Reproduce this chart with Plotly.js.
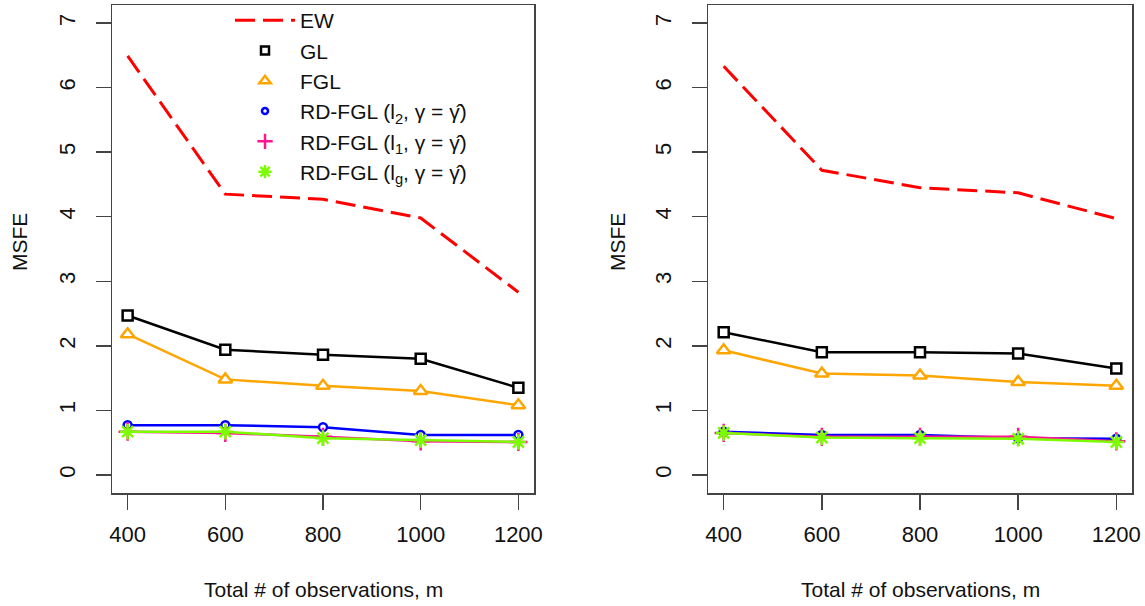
<!DOCTYPE html>
<html>
<head>
<meta charset="utf-8">
<script src="https://cdn.plot.ly/plotly-3.0.1.min.js"></script>
<style>html,body{margin:0;padding:0;background:#fff;}#chart{width:1145px;height:606px;}</style>
</head>
<body>
<div id="chart"></div>
<script>
// ---- data ----
var m = [400, 600, 800, 1000, 1200];
var xTickVals = [400, 600, 800, 1000, 1200];
var yTickVals = [0, 1, 2, 3, 4, 5, 6, 7];

var seriesNames = ["EW", "GL", "FGL",
  "RD-FGL (l<sub>2</sub>, γ = γ\u0302)",
  "RD-FGL (l<sub>1</sub>, γ = γ\u0302)",
  "RD-FGL (l<sub>g</sub>, γ = γ\u0302)"];

// left panel
var ewLeft  = [6.49, 4.35, 4.27, 3.98, 2.83];
var glLeft  = [2.47, 1.94, 1.86, 1.80, 1.35];
var fglLeft = [2.18, 1.48, 1.38, 1.30, 1.08];
var l2Left  = [0.77, 0.77, 0.74, 0.62, 0.62];
var l1Left  = [0.67, 0.65, 0.59, 0.52, 0.51];
var lgLeft  = [0.67, 0.67, 0.57, 0.54, 0.51];

// right panel
var ewRight  = [6.33, 4.72, 4.45, 4.37, 3.97];
var glRight  = [2.21, 1.90, 1.90, 1.88, 1.65];
var fglRight = [1.93, 1.57, 1.54, 1.44, 1.38];
var l2Right  = [0.67, 0.62, 0.62, 0.57, 0.56];
var l1Right  = [0.65, 0.59, 0.59, 0.59, 0.52];
var lgRight  = [0.65, 0.58, 0.57, 0.56, 0.51];

var xTitle = "Total # of observations, m";
var yTitle = "MSFE";

// ---- styles ----
var FONT = "Liberation Sans, Arial, sans-serif";
var styles = [
  {color: "#FF0000", symbol: null, dash: "20px,8px", lw: 3},
  {color: "#000000", symbol: "square", size: 10},
  {color: "#FFA500", symbol: "triangle-up", size: 12},
  {color: "#0000FF", symbol: "circle", size: 8},
  {color: "#FF1493", symbol: "cross-thin-open", size: 13},
  {color: "#7CFC00", symbol: "asterisk-open", size: 13}
];

function mk(yvals, i, xa, ya) {
  var s = styles[i];
  var t = {x: m, y: yvals, xaxis: xa, yaxis: ya, showlegend: false,
    line: {color: s.color, width: s.lw || 2.5, dash: s.dash || "solid"}, hoverinfo: "skip"};
  if (s.symbol) {
    t.mode = "lines+markers";
    var fillWhite = (i <= 3);
    t.marker = {symbol: s.symbol, size: s.size,
      color: fillWhite ? "#FFFFFF" : s.color,
      line: {color: s.color, width: 2.5}};
  } else {
    t.mode = "lines";
  }
  return t;
}

var left = [ewLeft, glLeft, fglLeft, l2Left, l1Left, lgLeft];
var right = [ewRight, glRight, fglRight, l2Right, l1Right, lgRight];
var data = [];
left.forEach(function (v, i) { data.push(mk(v, i, "x", "y")); });
right.forEach(function (v, i) { data.push(mk(v, i, "x2", "y2")); });

// legend entries
seriesNames.forEach(function (name, i) {
  var s = styles[i];
  var t = {x: [null], y: [null], name: name, xaxis: "x", yaxis: "y", showlegend: true, hoverinfo: "skip"};
  if (s.symbol) {
    t.mode = "markers";
    t.marker = {symbol: s.symbol, size: s.size - 2, color: (i <= 3) ? "#FFFFFF" : s.color,
      line: {color: s.color, width: 2.5}};
  } else {
    t.mode = "lines";
    t.line = {color: s.color, width: 3, dash: s.dash};
  }
  data.push(t);
});

var W = 1145, H = 606;
function ax(domain, range, vals, isY, anchor) {
  var a = {domain: domain, range: range, tickvals: vals, ticktext: vals.map(String), anchor: anchor,
    showgrid: false, zeroline: false, showline: true, mirror: true,
    linecolor: "#444", linewidth: 1.5, ticks: "outside", ticklen: 15, tickwidth: 1.5,
    tickcolor: "#444", tickfont: {family: FONT, size: 22, color: "#111"}, fixedrange: true};
  if (isY) { a.tickangle = -90; a.ticklabelstandoff = 12; }
  else { a.ticklabelstandoff = 6; }
  return a;
}
var yDom = [1 - 493 / H, 1 - 5 / H];
var layout = {
  width: W, height: H, margin: {l: 0, r: 0, t: 0, b: 0},
  paper_bgcolor: "#fff", plot_bgcolor: "#fff",
  font: {family: FONT, size: 21, color: "#111"},
  xaxis: ax([112 / W, 534 / W], [368, 1232], xTickVals, false, "y"),
  yaxis: ax(yDom, [-0.28, 7.28], yTickVals, true, "x"),
  xaxis2: ax([708 / W, 1132 / W], [368, 1232], xTickVals, false, "y2"),
  yaxis2: ax(yDom, [-0.28, 7.28], yTickVals, true, "x2"),
  showlegend: true,
  legend: {x: 230 / W, y: 1, xanchor: "left", yanchor: "top",
    bgcolor: "rgba(0,0,0,0)", borderwidth: 0, itemwidth: 60,
    font: {family: FONT, size: 21, color: "#111"}, tracegroupgap: 0},
  annotations: [
    {text: xTitle, xref: "paper", yref: "paper", x: 323 / W, y: 1 - 589 / H, showarrow: false,
      font: {family: FONT, size: 21, color: "#111"}, xanchor: "center", yanchor: "middle"},
    {text: xTitle, xref: "paper", yref: "paper", x: 920 / W, y: 1 - 589 / H, showarrow: false,
      font: {family: FONT, size: 21, color: "#111"}, xanchor: "center", yanchor: "middle"},
    {text: yTitle, xref: "paper", yref: "paper", x: 19 / W, y: 1 - 242 / H, showarrow: false, textangle: -90,
      font: {family: FONT, size: 21, color: "#111"}, xanchor: "center", yanchor: "middle"},
    {text: yTitle, xref: "paper", yref: "paper", x: 617 / W, y: 1 - 242 / H, showarrow: false, textangle: -90,
      font: {family: FONT, size: 21, color: "#111"}, xanchor: "center", yanchor: "middle"}
  ]
};
Plotly.newPlot("chart", data, layout, {displayModeBar: false, staticPlot: true});
</script>
</body>
</html>
